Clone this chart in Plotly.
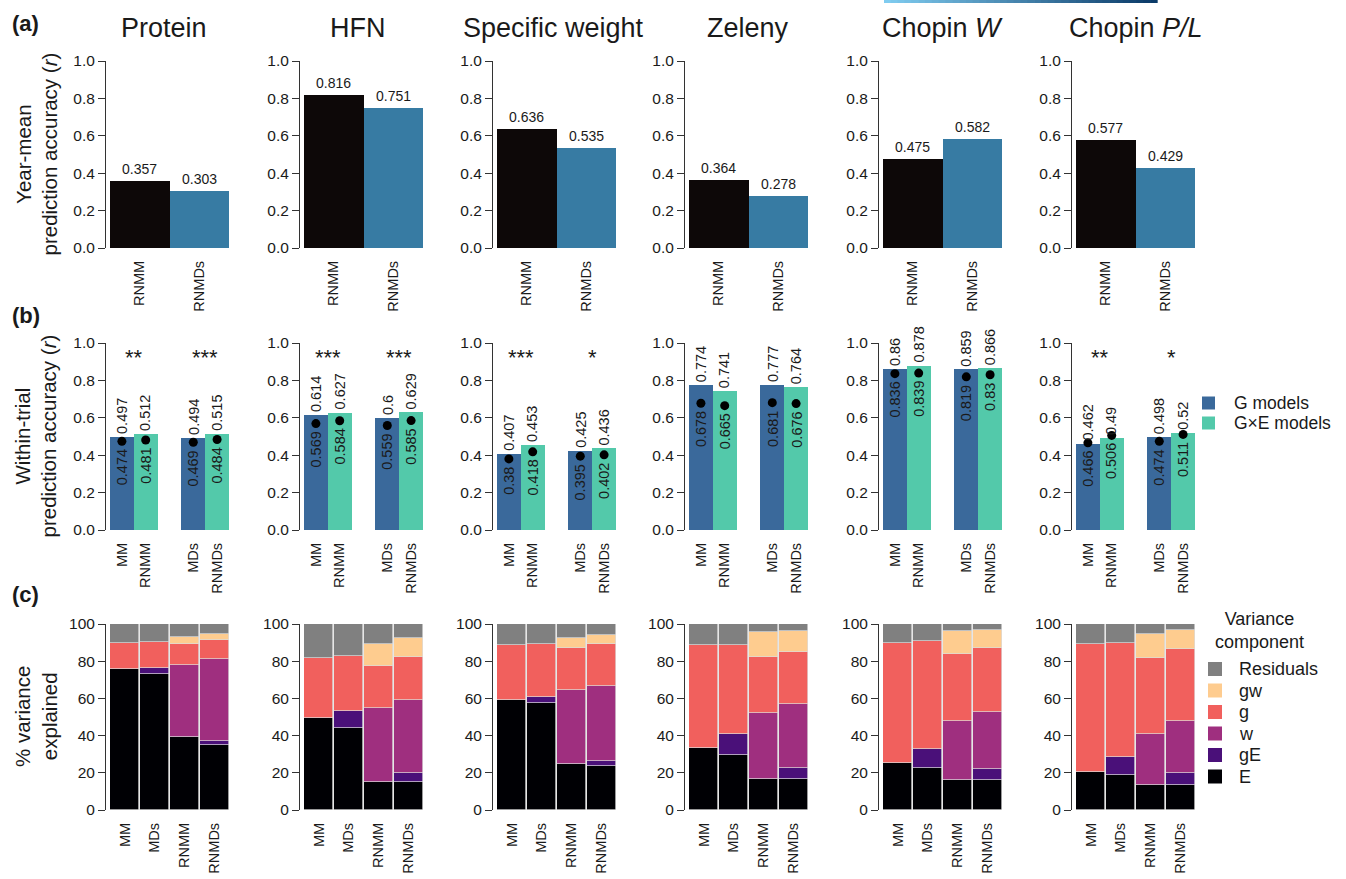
import plotly.graph_objects as go

# ---------------- data ----------------
traits = ["Protein", "HFN", "Specific weight", "Zeleny", "Chopin W", "Chopin P/L"]
trait_titles = ["Protein", "HFN", "Specific weight", "Zeleny", "Chopin <i>W</i>", "Chopin <i>P/L</i>"]

# (a) year-mean prediction accuracy
a_labels = ["RNMM", "RNMDs"]
a_rnmm = [0.357, 0.816, 0.636, 0.364, 0.475, 0.577]
a_rnmds = [0.303, 0.751, 0.535, 0.278, 0.582, 0.429]

# (b) within-trial prediction accuracy (bars) and dot values
b_labels = ["MM", "RNMM", "MDs", "RNMDs"]
b_mm = [0.497, 0.614, 0.407, 0.774, 0.86, 0.462]
b_rnmm = [0.512, 0.627, 0.453, 0.741, 0.878, 0.49]
b_mds = [0.494, 0.6, 0.425, 0.777, 0.859, 0.498]
b_rnmds = [0.515, 0.629, 0.436, 0.764, 0.866, 0.52]
dot_mm = [0.474, 0.569, 0.38, 0.678, 0.836, 0.466]
dot_rnmm = [0.481, 0.584, 0.418, 0.665, 0.839, 0.506]
dot_mds = [0.469, 0.559, 0.395, 0.681, 0.819, 0.474]
dot_rnmds = [0.484, 0.585, 0.402, 0.676, 0.83, 0.511]
stars_mm = ["**", "***", "***", "", "", "**"]
stars_mds = ["***", "***", "*", "", "", "*"]
legend_b = ["G models", "G×E models"]

# (c) % variance explained, per trait: [MM, MDs, RNMM, RNMDs]
c_labels = ["MM", "MDs", "RNMM", "RNMDs"]
var_E = [[75.8, 73.1, 39.1, 35.0], [49.2, 44.3, 15.1, 15.1], [59.4, 57.3, 25.0, 23.9],
         [33.2, 29.6, 16.7, 16.7], [25.3, 22.8, 16.2, 16.2], [20.6, 18.9, 13.3, 13.3]]
var_gE = [[0, 3.2, 0.3, 2.0], [0, 9.0, 0, 4.6], [0, 3.4, 0, 2.3],
          [0, 11.5, 0, 6.1], [0, 10.1, 0, 6.1], [0, 9.5, 0, 6.4]]
var_w = [[0, 0, 38.7, 44.3], [0, 0, 39.7, 39.7], [0, 0, 39.6, 40.4],
         [0, 0, 35.5, 34.1], [0, 0, 31.7, 30.5], [0, 0, 27.3, 28.4]]
var_g = [[14.0, 13.8, 10.9, 10.1], [32.7, 29.6, 22.6, 22.8], [29.3, 28.3, 22.5, 22.6],
         [55.3, 47.8, 30.2, 28.0], [64.6, 57.8, 36.1, 34.1], [68.4, 61.4, 40.9, 38.4]]
var_gw = [[0, 0, 4.0, 3.4], [0, 0, 11.8, 10.3], [0, 0, 5.5, 4.9],
          [0, 0, 13.5, 11.5], [0, 0, 12.1, 9.9], [0, 0, 13.3, 10.1]]
var_res = [[10.2, 9.9, 7.0, 5.2], [18.1, 17.1, 10.8, 7.5], [11.3, 11.0, 7.4, 5.9],
           [11.5, 11.1, 4.1, 3.6], [10.1, 9.3, 3.9, 3.2], [11.0, 10.2, 5.2, 3.4]]
components = ["E", "gE", "w", "g", "gw", "Residuals"]
comp_values = [var_E, var_gE, var_w, var_g, var_gw, var_res]

# ---------------- style ----------------
W, H = 1346, 879
FONT = "Liberation Sans, Arial, sans-serif"
TXT = "#1a1a1a"
col_black, col_blue = "#0d0808", "#377ba3"
col_G, col_GxE = "#3a699b", "#53c9aa"
comp_colors = ["#000004", "#4a1079", "#9f2f7f", "#f1605d", "#fecc8f", "#808080"]

col_x0 = [110, 304, 497, 689, 883, 1076]
bar_px = 119
rows_px = [(61, 248), (343, 530), (624, 810)]

fig = go.Figure()
layout = {}
annotations = []
shapes = []


def aid(k):
    return "" if k == 1 else str(k)


for r in range(3):
    ytop, ybot = rows_px[r]
    for c in range(6):
        k = r * 6 + c + 1
        x0 = col_x0[c]
        xa, ya = "x" + aid(k), "y" + aid(k)
        if r == 0:
            xr, xt, xtt = [0, 2], [0.5, 1.5], a_labels
            yr, ytv, ytt = [0, 1], [0, 0.2, 0.4, 0.6, 0.8, 1.0], ["0.0", "0.2", "0.4", "0.6", "0.8", "1.0"]
        elif r == 1:
            xr, xt, xtt = [0, 5], [0.5, 1.5, 3.5, 4.5], b_labels
            yr, ytv, ytt = [0, 1], [0, 0.2, 0.4, 0.6, 0.8, 1.0], ["0.0", "0.2", "0.4", "0.6", "0.8", "1.0"]
        else:
            xr, xt, xtt = [0, 4], [0.5, 1.5, 2.5, 3.5], c_labels
            yr, ytv, ytt = [0, 100], [0, 20, 40, 60, 80, 100], ["0", "20", "40", "60", "80", "100"]
        layout["xaxis" + aid(k)] = dict(
            domain=[x0 / W, (x0 + bar_px) / W], anchor=ya, range=xr, automargin=False,
            showline=False, showgrid=False, zeroline=False, ticks="",
            tickvals=xt, ticktext=xtt, tickangle=-90, ticklabelstandoff=9,
            tickfont=dict(size=14.5, color=TXT, family=FONT), fixedrange=True)
        layout["yaxis" + aid(k)] = dict(
            domain=[1 - ybot / H, 1 - ytop / H], anchor="free", position=(x0 - 5) / W,
            range=yr, automargin=False, showline=True, linecolor="#333", linewidth=1,
            ticks="outside", ticklen=7, tickcolor="#333", tickwidth=1,
            showgrid=False, zeroline=False, tickvals=ytv, ticktext=ytt,
            tickfont=dict(size=15.5, color=TXT, family=FONT), fixedrange=True)

        if r == 0:
            fig.add_trace(go.Bar(x=[0.5, 1.5], y=[a_rnmm[c], a_rnmds[c]], width=1,
                                 marker=dict(color=[col_black, col_blue], line=dict(width=0)),
                                 xaxis=xa, yaxis=ya, showlegend=False))
            for xv, v in zip([0.5, 1.5], [a_rnmm[c], a_rnmds[c]]):
                annotations.append(dict(x=xv, y=v, xref=xa, yref=ya, text=f"{v:g}",
                                        showarrow=False, yanchor="bottom", yshift=2,
                                        font=dict(size=14, color=TXT, family=FONT)))
        elif r == 1:
            bars = [b_mm[c], b_rnmm[c], b_mds[c], b_rnmds[c]]
            dots = [dot_mm[c], dot_rnmm[c], dot_mds[c], dot_rnmds[c]]
            fig.add_trace(go.Bar(x=[0.5, 3.5], y=[bars[0], bars[2]], width=1,
                                 marker=dict(color=col_G, line=dict(width=0)),
                                 xaxis=xa, yaxis=ya, showlegend=False))
            fig.add_trace(go.Bar(x=[1.5, 4.5], y=[bars[1], bars[3]], width=1,
                                 marker=dict(color=col_GxE, line=dict(width=0)),
                                 xaxis=xa, yaxis=ya, showlegend=False))
            fig.add_trace(go.Scatter(x=xt, y=dots, mode="markers",
                                     marker=dict(color="black", size=9),
                                     xaxis=xa, yaxis=ya, showlegend=False, cliponaxis=False))
            for xv, bv, dv in zip(xt, bars, dots):
                annotations.append(dict(x=xv, y=bv, xref=xa, yref=ya, text=f"{bv:g}",
                                        textangle=-90, showarrow=False, yanchor="bottom",
                                        xanchor="center", yshift=1,
                                        font=dict(size=14.5, color=TXT, family=FONT)))
                annotations.append(dict(x=xv, y=dv, xref=xa, yref=ya, text=f"{dv:g}",
                                        textangle=-90, showarrow=False, yanchor="top",
                                        xanchor="center", yshift=-6,
                                        font=dict(size=14.5, color=TXT, family=FONT)))
            for xv, s in zip([1.0, 4.0], [stars_mm[c], stars_mds[c]]):
                if s:
                    annotations.append(dict(x=xv, y=0.92, xref=xa, yref=ya, text=s,
                                            showarrow=False, yanchor="middle",
                                            font=dict(size=22, color=TXT, family=FONT)))
        else:
            for name, vals, colr in zip(components, comp_values, comp_colors):
                fig.add_trace(go.Bar(x=xt, y=vals[c], width=0.97, name=name,
                                     marker=dict(color=colr, line=dict(width=0.7, color="#dcdcdc")),
                                     xaxis=xa, yaxis=ya, showlegend=False))

# titles
title_x = [164, 358, 553, 748, 943, 1136]
for t, tx in zip(trait_titles, title_x):
    annotations.append(dict(x=tx / W, y=1 - 28 / H, xref="paper", yref="paper", text=t,
                            showarrow=False, xanchor="center", yanchor="middle",
                            font=dict(size=27, color=TXT, family=FONT)))

# panel letters
for lab, yy in zip(["(a)", "(b)", "(c)"], [23, 315, 594]):
    annotations.append(dict(x=10 / W, y=1 - yy / H, xref="paper", yref="paper",
                            text=f"<b>{lab}</b>", showarrow=False, xanchor="left",
                            yanchor="middle", font=dict(size=22, color=TXT, family=FONT)))

# y titles
ytitles = ["Year-mean<br>prediction accuracy (<i>r</i>)",
           "Within-trial<br>prediction accuracy (<i>r</i>)",
           "% variance<br>explained"]
for t, (ytop, ybot) in zip(ytitles, rows_px):
    annotations.append(dict(x=36 / W, y=1 - (ytop + ybot) / 2 / H, xref="paper", yref="paper",
                            text=t, textangle=-90, showarrow=False, xanchor="center",
                            yanchor="middle", font=dict(size=20.5, color=TXT, family=FONT)))

# legend (b)
for i, (lab, colr) in enumerate(zip(legend_b, [col_G, col_GxE])):
    yc = 403 + i * 20
    shapes.append(dict(type="rect", xref="paper", yref="paper",
                       x0=1202 / W, x1=1215 / W, y0=1 - (yc - 6.5) / H, y1=1 - (yc + 6.5) / H,
                       fillcolor=colr, line=dict(width=0)))
    annotations.append(dict(x=1232 / W, y=1 - yc / H, xref="paper", yref="paper", text=lab,
                            showarrow=False, xanchor="left", yanchor="middle",
                            font=dict(size=17.5, color=TXT, family=FONT)))

# legend (c)
annotations.append(dict(x=1259 / W, y=1 - 630 / H, xref="paper", yref="paper",
                        text="Variance<br>component", showarrow=False, xanchor="center",
                        yanchor="middle", font=dict(size=18, color=TXT, family=FONT)))
for i, (lab, colr) in enumerate(zip(components[::-1], comp_colors[::-1])):
    yc = 669 + i * 21.5
    shapes.append(dict(type="rect", xref="paper", yref="paper",
                       x0=1208 / W, x1=1222 / W, y0=1 - (yc - 7) / H, y1=1 - (yc + 7) / H,
                       fillcolor=colr, line=dict(width=0)))
    annotations.append(dict(x=1237 / W, y=1 - yc / H, xref="paper", yref="paper", text=lab,
                            showarrow=False, xanchor="left", yanchor="middle",
                            font=dict(size=18, color=TXT, family=FONT)))

# thin gradient strip at the top (cropped header remnant)
n = 40
c0, c1 = (128, 204, 240), (10, 58, 104)
for i in range(n):
    f = i / (n - 1)
    rgb = tuple(int(c0[j] + (c1[j] - c0[j]) * f) for j in range(3))
    xa0 = 884 + (1157 - 884) * i / n
    xa1 = 884 + (1157 - 884) * (i + 1) / n
    shapes.append(dict(type="rect", xref="paper", yref="paper", x0=xa0 / W, x1=xa1 / W + 0.0005,
                       y0=1, y1=1 - 3 / H, fillcolor="rgb(%d,%d,%d)" % rgb, line=dict(width=0)))

fig.update_layout(**layout)
fig.update_layout(width=W, height=H, margin=dict(l=0, r=0, t=0, b=0, autoexpand=False),
                  paper_bgcolor="white", plot_bgcolor="white", barmode="stack",
                  bargap=0, annotations=annotations, shapes=shapes,
                  font=dict(family=FONT, color=TXT), showlegend=False)
fig.write_html("out.html")
